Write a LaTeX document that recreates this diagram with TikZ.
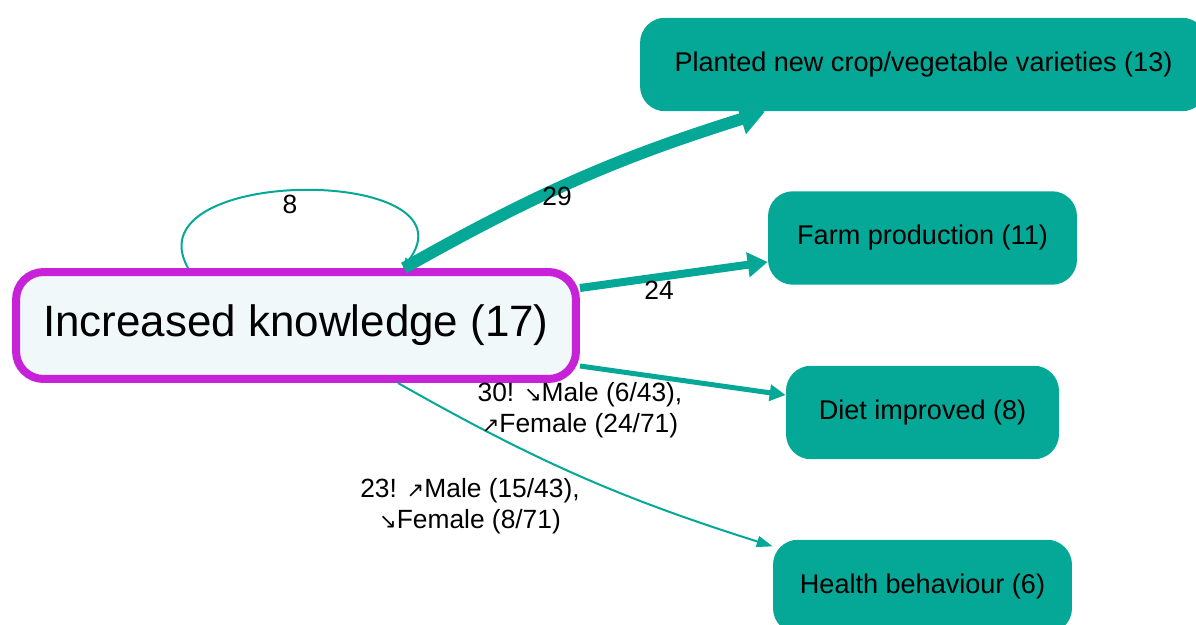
\documentclass[tikz,border=0pt]{standalone}
\usepackage{fontspec}
\setmainfont{Liberation Sans}
\newfontfamily\arrowfont{DejaVu Sans}
\usetikzlibrary{arrows.meta}

\definecolor{linkteal}{RGB}{5,168,150}
\definecolor{knowmagenta}{RGB}{200,34,216}
\definecolor{knowfill}{RGB}{240,248,250}

\newcommand{\dnarr}{{\arrowfont\fontsize{12}{12}\selectfont ↘}}
\newcommand{\uparr}{{\arrowfont\fontsize{12}{12}\selectfont ↗}}

\tikzset{
  outcome/.style={fill=linkteal, rounded corners=0.5cm, minimum height=1.87cm,
    font=\fontsize{15.4}{18}\selectfont},
  lbl/.style={font=\fontsize{15}{17.5}\selectfont, align=center, inner sep=0pt},
  link/.style={draw=linkteal},
}

\begin{document}
\begin{tikzpicture}[x=0.02cm, y=-0.02cm]
  \useasboundingbox (0,0) rectangle (1196,625);
  % central node
  \node[draw=knowmagenta, line width=0.16cm, fill=knowfill, rounded corners=0.55cm,
    minimum width=11.2cm, minimum height=2.14cm, font=\fontsize{25}{30}\selectfont]
    (know) at (296,325.5) {Increased knowledge (17)};
  % outcomes
  \node[outcome, minimum width=11.34cm] (crop) at (923.5,64.5) {Planted new crop/vegetable varieties (13)};
  \node[outcome, minimum width=6.18cm] (farm) at (922.5,238) {Farm production (11)};
  \node[outcome, minimum width=5.46cm] (diet) at (922.5,412.5) {Diet improved (8)};
  \node[outcome, minimum width=5.98cm] (health) at (922.5,586.5) {Health behaviour (6)};
  % links, thickness by count
  \draw[link, line width=0.24cm, -{Triangle[length=0.5cm,width=0.6cm]}]
    ([xshift=2.16cm]know.north) to[bend left=6] ([xshift=-3.17cm]crop.south);
  \draw[link, line width=0.16cm, -{Triangle[length=0.4cm,width=0.48cm]}]
    ([yshift=0.75cm]know.east) -- ([yshift=-0.48cm]farm.west);
  \draw[link, line width=0.1cm, -{Triangle[length=0.32cm,width=0.32cm]}]
    ([yshift=-0.81cm]know.east) -- ([yshift=0.35cm]diet.west);
  \draw[link, line width=0.04cm, -{Triangle[length=0.32cm,width=0.22cm]}]
    ([xshift=2.04cm]know.south) to[bend right=6] (health.165);
  % self loop
  \draw[link, line width=0.04cm, -{Triangle[length=0.2cm,width=0.16cm]}]
    ([xshift=-2.16cm]know.north) .. controls +(-58,-103) and +(77,-103) .. ([xshift=2.14cm]know.north);
  % labels
  \node[lbl] (w8) at (290,204) {8};
  \node[lbl] (w29) at (557,196) {29};
  \node[lbl] (w24) at (659,290) {24};
  \node[lbl] (wdiet) at (580,410) {30! \dnarr Male (6/43),\\ \uparr Female (24/71)};
  \node[lbl] (whealth) at (470,506) {23! \uparr Male (15/43),\\ \dnarr Female (8/71)};
\end{tikzpicture}
\end{document}
